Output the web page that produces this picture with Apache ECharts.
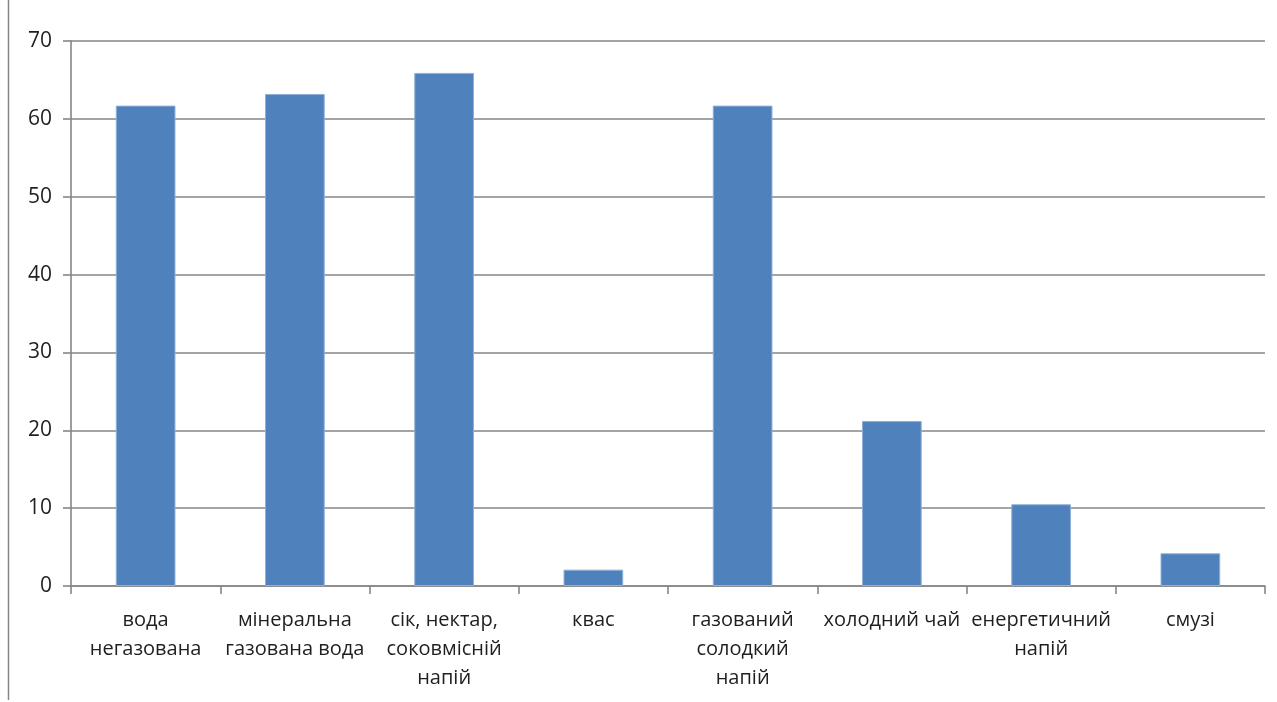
<!DOCTYPE html>
<html>
<head>
<meta charset="utf-8">
<script src="https://cdn.jsdelivr.net/npm/echarts@6/dist/echarts.min.js"></script>
<style>
  html, body { margin: 0; padding: 0; background: #ffffff; }
  #chart { width: 1277px; height: 702px; }
</style>
</head>
<body>
<div id="chart"></div>
<script>
// Beverage categories (axis labels, with their line breaks)
const categories = [
  'вода\nнегазована',
  'мінеральна\nгазована вода',
  'сік, нектар,\nсоковмісній\nнапій',
  'квас',
  'газований\nсолодкий\nнапій',
  'холодний чай',
  'енергетичний\nнапій',
  'смузі'
];

// Share of respondents, %
const values = [61.7, 63.2, 65.9, 2.1, 61.7, 21.2, 10.5, 4.2];

// Value axis range
const yMin = 0;
const yMax = 70;
const yStep = 10;

const chart = echarts.init(document.getElementById('chart'), null, { renderer: 'canvas' });

const axisGray = '#868686';
const textColor = '#1f1f1f';
const fontFamily = '"Open Sans", "Noto Sans", sans-serif';

chart.setOption({
  animation: false,
  backgroundColor: '#ffffff',
  grid: { left: 71, right: 12, top: 41, bottom: 116, containLabel: false },
  xAxis: {
    type: 'category',
    data: categories,
    boundaryGap: true,
    axisLine: { show: true, lineStyle: { color: axisGray, width: 1.6 } },
    axisTick: { show: true, alignWithLabel: false, length: 8, lineStyle: { color: axisGray, width: 1.6 } },
    axisLabel: {
      interval: 0,
      margin: 20,
      color: textColor,
      fontFamily: fontFamily,
      fontSize: 20,
      lineHeight: 29
    }
  },
  yAxis: {
    type: 'value',
    min: yMin,
    max: yMax,
    interval: yStep,
    axisLine: { show: true, lineStyle: { color: axisGray, width: 1.6 } },
    axisTick: { show: true, length: 8, lineStyle: { color: axisGray, width: 1.6 } },
    splitLine: { show: true, lineStyle: { color: axisGray, width: 1.6 } },
    axisLabel: {
      margin: 19,
      color: textColor,
      fontFamily: fontFamily,
      fontSize: 21
    }
  },
  series: [{
    type: 'bar',
    data: values,
    barWidth: '40%',
    itemStyle: { color: '#4F81BD', borderColor: '#8fb0d8', borderWidth: 1 }
  }],
  graphic: [{
    type: 'line',
    shape: { x1: 8.5, y1: 0, x2: 8.5, y2: 700 },
    style: { stroke: axisGray, lineWidth: 1.5 },
    silent: true
  }]
});
</script>
</body>
</html>
